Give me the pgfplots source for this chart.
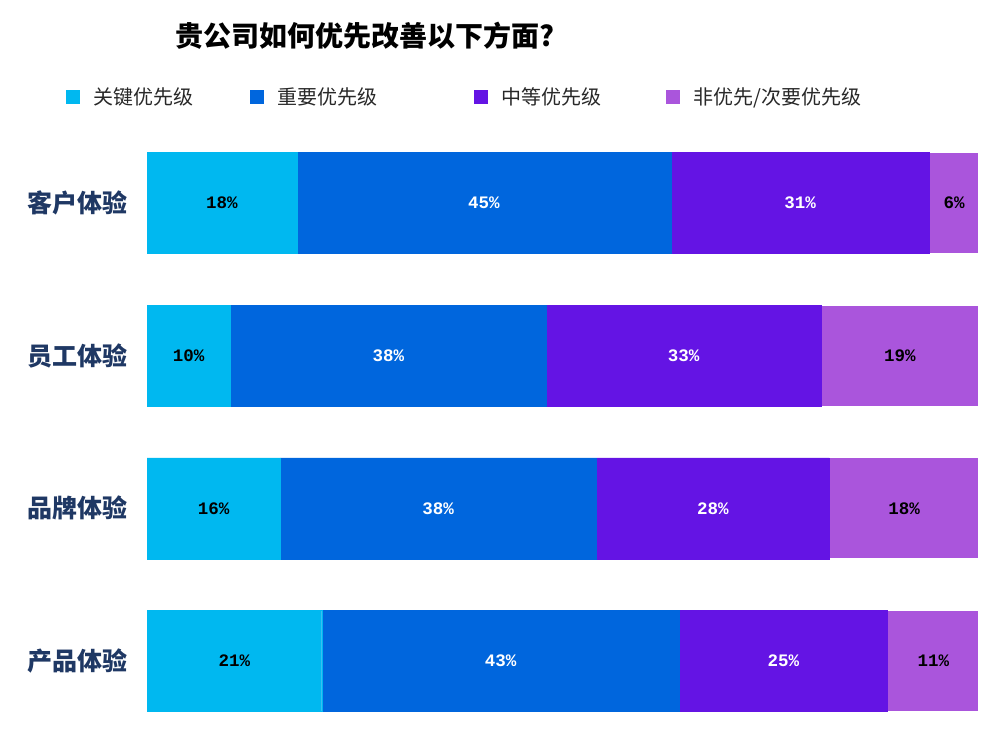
\documentclass[border=0pt]{standalone}
\usepackage{pgfplots}
\pgfplotsset{compat=1.18}
\usepackage{fontspec}
\setmainfont{Noto Sans CJK SC}
\newfontfamily\monob{Liberation Mono}
\definecolor{c1}{RGB}{0,184,240}
\definecolor{c2}{RGB}{0,102,221}
\definecolor{c3}{RGB}{100,20,228}
\definecolor{c4}{RGB}{170,85,220}
\definecolor{navy}{RGB}{31,56,100}
\definecolor{edge}{RGB}{175,185,245}
\definecolor{legtext}{RGB}{40,40,40}
\begin{document}
\begin{tikzpicture}[x=1pt,y=1pt]
\path[use as bounding box] (0,0) rectangle (1000,730);
\node[font=\bfseries\fontsize{28}{28}\selectfont, anchor=center] at (365,694) {贵公司如何优先改善以下方面?};
\begin{axis}[
  at={(147pt,15.5pt)}, anchor=south west,
  width=832pt, height=565pt, scale only axis,
  xbar stacked, bar width=101pt,
  xmin=0, xmax=100, ymin=-0.35, ymax=3.35, y dir=reverse,
  ytick={0,1,2,3},
  yticklabels={客户体验,员工体验,品牌体验,产品体验},
  yticklabel style={font=\bfseries\fontsize{25}{25}\selectfont, text=navy, xshift=-16pt},
  xtick=\empty,
  axis line style={draw=none},
  major tick length=0pt,
  clip=false,
  nodes near coords={\pgfmathprintnumber[assume math mode=true]{\pgfplotspointmeta}\%},
  every node near coord/.append style={font=\monob\bfseries\fontsize{17.5}{17.5}\selectfont},
  legend columns=4,
  legend style={draw=none, fill=none, at={(axis description cs:-0.0974,1.0929)}, anchor=west, inner sep=0pt, font=\fontsize{20}{20}\selectfont, text=legtext, column sep=0pt},
  legend cell align=left,
  legend image code/.code={\fill[#1, draw=none] (0pt,-7pt) rectangle (14pt,7pt); \path[draw=none, fill=none] (0pt,0pt) -- (25pt,0pt);},
]
\addplot[fill=c1, draw=c1, line width=0.4pt, every node near coord/.append style={text=black}] coordinates {(18,0) (10,1) (16,2) (21,3)};
\addlegendentry{\makebox[155pt][l]{关键优先级}}
\addplot[fill=c2, draw=c2, line width=0.4pt, every node near coord/.append style={text=white}] coordinates {(45,0) (38,1) (38,2) (43,3)};
\addlegendentry{\makebox[195pt][l]{重要优先级}}
\addplot[fill=c3, draw=c3, line width=0.4pt, every node near coord/.append style={text=white}] coordinates {(31,0) (33,1) (28,2) (25,3)};
\addlegendentry{\makebox[163pt][l]{中等优先级}}
\addplot[fill=c4, draw=white, line width=1.2pt, every node near coord/.append style={text=black}] coordinates {(6,0) (19,1) (18,2) (11,3)};
\addlegendentry{非优先/次要优先级}
\end{axis}
\end{tikzpicture}
\end{document}
